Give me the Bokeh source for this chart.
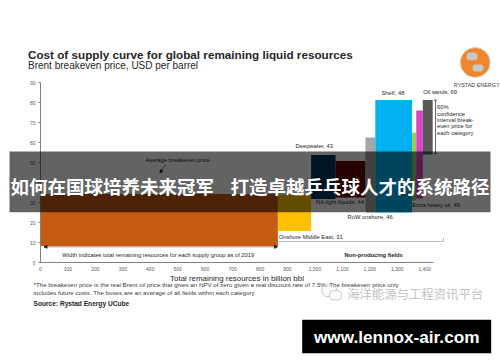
import numpy as np
from bokeh.plotting import figure
from bokeh.layouts import column
from bokeh.models import (Range1d, FixedTicker, NumeralTickFormatter, Label, BoxAnnotation,
                          Arrow, NormalHead, ColumnDataSource)
from bokeh.embed import file_html
from bokeh.resources import INLINE

# ---------------- data ----------------
categories = ["Producing fields", "Onshore Middle East", "Deepwater", "NA tight liquids",
              "RoW onshore", "Shelf", "Extra heavy oil", "Other", "Oil sands"]
resources = [865, 121, 89, 109, 36, 134, 15, 24, 36]          # billion bbl (box widths)
price_low = [8.3, 15.8, 31.8, 32.5, 25.0, 25.0, 31.0, 32.0, 54.0]
price_high = [34.2, 34.0, 53.8, 50.8, 62.5, 81.2, 65.0, 76.0, 81.2]
colors = ["#c55a11", "#ffc000", "#00375a", "#650000", "#a6a6a6",
          "#00b0f0", "#92d050", "#dd44c4", "#595959"]
x_ticks = [0, 100, 200, 300, 400, 500, 600, 700, 800, 900, 1000, 1100, 1200, 1300, 1400]
y_ticks = [0, 10, 20, 30, 40, 50, 60, 70, 80, 90]

# ---------------- chart layer ----------------
W, H = 500, 360
BL, BR, BT, BB = 40, 67, 82, 98
XMAX, YMAX = 1432, 90
FONT = "Liberation Sans"

p = figure(width=W, height=H, output_backend="svg", toolbar_location=None,
           x_range=Range1d(0, XMAX), y_range=Range1d(0, YMAX),
           min_border_left=BL, min_border_right=BR, min_border_top=BT, min_border_bottom=BB)
p.frame_align = False
p.outline_line_color = None
p.xgrid.visible = False
p.ygrid.visible = False
p.background_fill_color = "white"
p.border_fill_color = "white"

right = np.cumsum(resources)
left = right - np.array(resources)
src = ColumnDataSource(dict(left=left, right=right, bottom=price_low, top=price_high,
                            color=colors, cat=categories))
p.quad(left="left", right="right", bottom="bottom", top="top", fill_color="color",
       line_color=None, source=src)

xa = p.xaxis[0]
xa.ticker = FixedTicker(ticks=x_ticks)
xa.formatter = NumeralTickFormatter(format="0,0")
xa.major_label_text_font = FONT
xa.major_label_text_font_size = "5px"
xa.major_label_text_color = "#595959"
xa.axis_line_color = "#808080"
xa.major_tick_out = 0
xa.major_tick_in = 0
xa.minor_tick_out = 0
xa.minor_tick_in = 0
xa.major_label_standoff = 4
xa.axis_label = "Total remaining resources in billion bbl"
xa.axis_label_text_font = FONT
xa.axis_label_text_font_size = "7.9px"
xa.axis_label_text_font_style = "normal"
xa.axis_label_text_color = "#262626"
xa.axis_label_standoff = 0

ya = p.yaxis[0]
ya.ticker = FixedTicker(ticks=y_ticks)
ya.major_label_text_font = FONT
ya.major_label_text_font_size = "5px"
ya.major_label_text_color = "#595959"
ya.axis_line_color = "#808080"
ya.major_tick_line_color = "#808080"
ya.major_tick_out = 2
ya.major_tick_in = 0
ya.minor_tick_out = 0
ya.minor_tick_in = 0
ya.major_label_standoff = 3

# ---------------- annotation layer (page pixel coordinates) ----------------
o = figure(width=W, height=H, output_backend="svg", toolbar_location=None,
           x_range=Range1d(0, W), y_range=Range1d(H, 0),
           x_axis_location=None, y_axis_location=None,
           min_border_left=0, min_border_right=0, min_border_top=0, min_border_bottom=0,
           margin=(-H, 0, 0, 0))
o.frame_align = False
o.outline_line_color = None
o.xgrid.visible = False
o.ygrid.visible = False
o.background_fill_alpha = 0
o.border_fill_alpha = 0


def add_label(text, px, py, size, align="left", color="#262626", bold=False, font=FONT):
    o.add_layout(Label(x=px, y=py, text=text, text_font=font,
                       text_font_size=f"{size}px", text_align=align, text_baseline="middle",
                       text_color=color, text_font_style="bold" if bold else "normal"))


def add_line(x0, y0, x1, y1, color="#404040", width=0.7, start=False, end=False, size=3):
    o.add_layout(Arrow(x_start=x0, y_start=y0, x_end=x1, y_end=y1,
                       line_color=color, line_width=width,
                       start=NormalHead(size=size, fill_color=color, line_color=color) if start else None,
                       end=NormalHead(size=size, fill_color=color, line_color=color) if end else None))


def add_box(x0, y0, x1, y1, fill, alpha=1.0, line=None, radius=0):
    o.add_layout(BoxAnnotation(left=x0, right=x1, top=y0, bottom=y1,
                               fill_color=fill if fill else "white", fill_alpha=alpha if fill else 0,
                               line_color=line if line else "white",
                               line_alpha=1.0 if line else 0, border_radius=int(radius)))


# titles
add_label("Cost of supply curve for global remaining liquid resources", 27.5, 53.5, 11.7, bold=True)
add_label("Brent breakeven price, USD per barrel", 27.5, 65, 10)

# category labels
add_label("Deepwater, 43", 295, 145, 5.8)
add_label("NA tight liquids, 44", 315.5, 201.7, 5.8)
add_label("RoW onshore, 46", 347, 216.7, 5.8)
add_label("Shelf, 48", 381, 92.5, 5.8)
add_label("Extra heavy oil, 49", 411.7, 204, 5.8)
add_label("Oil sands, 69", 422.7, 91.7, 5.8)
add_label("Onshore Middle East, 31", 278.3, 236.2, 5.8)
add_label("Average breakeven price", 145, 159.3, 5.8)
add_label("Width indicates total remaining resources for each supply group as of 2019", 61.7, 254.2, 5.8)
add_label("Non-producing fields", 344, 254, 5.8, bold=True)
for i, t in enumerate(["60%", "confidence", "interval break-", "even price for", "each category"]):
    add_label(t, 436.5, 106.7 + i * 6.4, 5.8)

# arrows / brackets
add_line(165, 164, 159.5, 172.5, color="#262626", width=0.6, end=True, size=3)
add_line(43.5, 246.3, 277, 246.3, color="#262626", width=0.5, start=True, end=True, size=3)
add_line(277.7, 241, 443, 241, color="#a0a0a0", width=0.7)
add_line(443, 241, 443, 237.5, color="#a0a0a0", width=0.7)
add_line(435, 99.5, 435, 153, color="#262626", width=0.7)
add_line(433.5, 99.5, 436.5, 99.5, color="#262626", width=0.7)
add_line(433.5, 153, 436.5, 153, color="#262626", width=0.7)

# footnotes
add_label("*The breakeven price is the real Brent oil price that gives an NPV of zero given a real discount rate of 7.5%. The breakeven price only",
          33, 284.3, 6.2, color="#404040")
add_label("includes future costs. The boxes are an average of all fields within each category",
          33, 292, 6.2, color="#404040")
add_label("Source: Rystad Energy UCube", 33, 303.3, 6.6, bold=True)

# logo
add_box(459.7, 47, 489.7, 77, "#f0862a", radius=15, line="#d9d9d9")
add_box(466, 52, 477, 60, "#c8c8c8", radius=4)
add_box(472, 64, 483, 71, "#c8c8c8", radius=3)
add_label("RYSTAD ENERGY", 499, 84, 5.4, align="right", color="#404040")

# watermark
add_box(321.5, 284.5, 336, 296, None, line="#c8c8c8", radius=5)
add_box(329, 290, 341, 299.5, "white", line="#c8c8c8", radius=4)
add_label("海洋能源与工程资讯平台", 346.5, 293.5, 12.4, color="#c3c3c3", font="Noto Sans CJK SC")

# overlay banner
add_box(9, 151, 490, 211.7, "black", alpha=0.61)
add_label("如何在国球培养未来冠军", 10, 185, 18.5, color="white", bold=True, font="Noto Sans CJK SC")
add_label("打造卓越乒乓球人才的系统路径", 230, 185, 18.5, color="white", bold=True, font="Noto Sans CJK SC")

# url box
add_box(301.7, 319.3, 490.7, 352.7, "black")
add_label("www.lennox-air.com", 396.2, 336, 17.2, align="center", color="white", bold=True)

layout = column(p, o)
open("out.html", "w").write(file_html(layout, INLINE))
